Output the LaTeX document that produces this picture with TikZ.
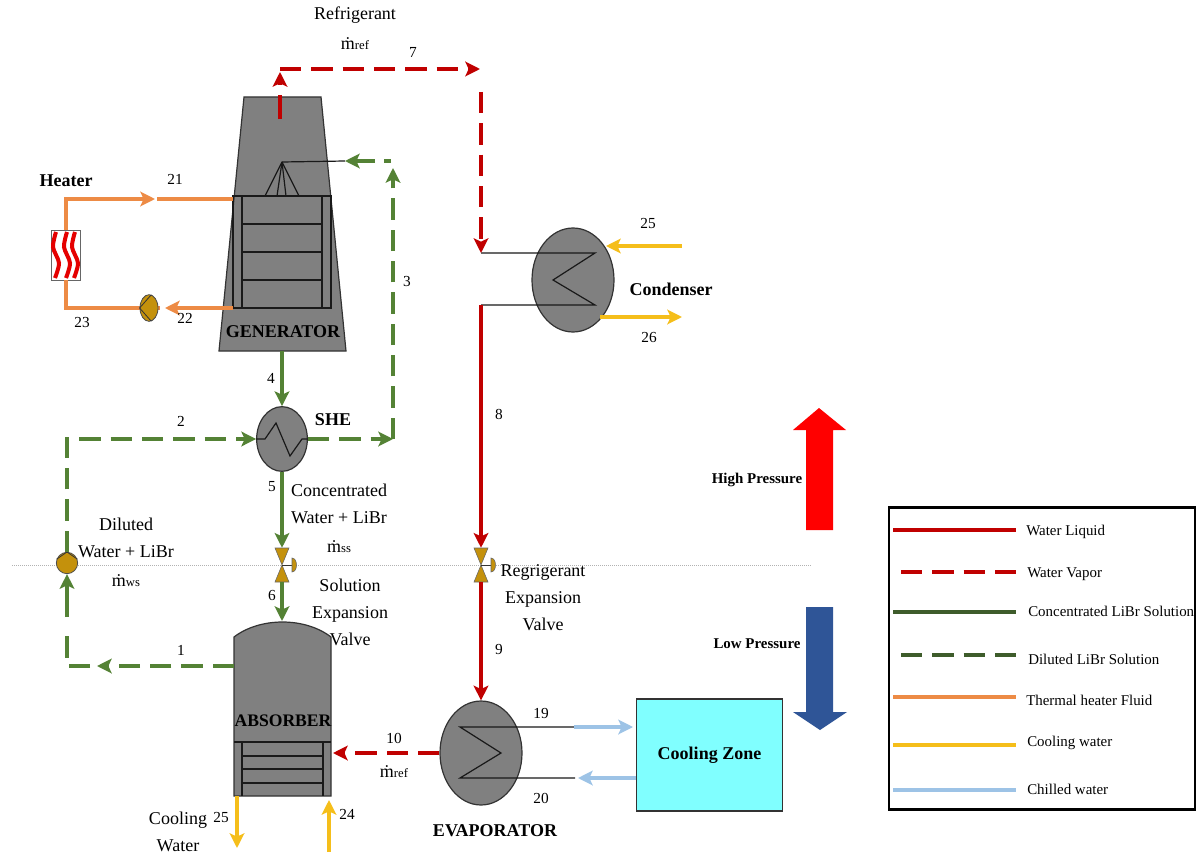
\documentclass[tikz,border=0pt]{standalone}
\usepackage{fontspec}
\setmainfont{Liberation Serif}
\usepackage{xcolor}
\usepackage{tikz}
\usetikzlibrary{arrows.meta,shapes.geometric}

\definecolor{unitgray}{RGB}{128,128,128}
\definecolor{waterred}{RGB}{192,0,0}
\definecolor{solgreen}{RGB}{84,130,53}
\definecolor{keydarkgreen}{RGB}{62,92,43}
\definecolor{heatorange}{RGB}{237,139,69}
\definecolor{coolyellow}{RGB}{245,190,26}
\definecolor{chillblue}{RGB}{157,195,230}
\definecolor{valvegold}{RGB}{196,145,12}
\definecolor{zonecyan}{RGB}{128,255,255}
\definecolor{lowblue}{RGB}{47,85,151}

\newcommand{\flowrate}[1]{\.m{\fontsize{9.5}{10}\selectfont #1}}

\tikzset{
  pipe/.style={line width=2.4pt},
  vapdash/.style={dash pattern=on 16pt off 7.5pt},
  liquid/.style={pipe, color=waterred},
  vapor/.style={pipe, vapdash, color=waterred},
  conc/.style={pipe, color=solgreen},
  dilut/.style={pipe, vapdash, color=solgreen},
  heatline/.style={pipe, color=heatorange},
  coolline/.style={pipe, color=coolyellow},
  chillline/.style={pipe, color=chillblue},
  coil/.style={draw=black!90, line width=0.9pt},
  unit/.style={draw=black!80, line width=0.9pt, fill=unitgray},
  hx/.style={unit, ellipse, inner sep=0pt, minimum width=61.5pt, minimum height=78pt},
  pumpnode/.style={ellipse, draw=black!70, line width=0.6pt, fill=valvegold, inner sep=0pt},
  valvenode/.style={inner sep=0pt, minimum width=10.5pt, minimum height=25.5pt},
  lab/.style={inner sep=0pt, align=center, font=\fontsize{13.5}{20.25}\selectfont},
  num/.style={inner sep=0pt, font=\fontsize{11.5}{14}\selectfont},
  tag/.style={inner sep=0pt, font=\fontsize{13.5}{16}\selectfont\bfseries},
  presstag/.style={inner sep=0pt, font=\fontsize{11.2}{14}\selectfont\bfseries},
  keytext/.style={inner sep=0pt, anchor=west, font=\fontsize{11.2}{13}\selectfont},
}

\begin{document}
\begin{tikzpicture}[x=0.75pt, y=-0.75pt, >={Stealth[length=11pt,width=11pt,inset=2.5pt]}]
  \useasboundingbox (0,0) rectangle (1196,856);

  \coordinate (gtl) at (244,97);
  \coordinate (gtr) at (321,97);
  \coordinate (gbr) at (346,351);
  \coordinate (gbl) at (219,351);
  \coordinate (spray) at (282,162);
  \coordinate (sprayin) at (345,161);

  \draw[black!30, densely dotted, line width=0.5pt] (12,565) coordinate (levl) -- (812,565) coordinate (levr);

  % generator
  \draw[unit] (gtl) -- (gtr) -- (gbr) -- (gbl) -- cycle;
  \draw[coil] (233,196) rectangle (331,308);
  \draw[coil] (242,196) -- (242,308);
  \draw[coil] (322,196) -- (322,308);
  \foreach \y in {224,252,280}
    \draw[coil] (242,\y) -- (322,\y);
  \foreach \x in {265,277,286,299}
    \draw[coil] (spray) -- (\x,196);
  \draw[coil] (spray) -- (sprayin);

  % absorber
  \draw[unit] (234,796) -- (234,637) .. controls (260,617) and (305,617) .. (331,637) -- (331,796) -- cycle;
  \draw[coil] (234,742) -- (331,742);
  \draw[coil] (242,742) -- (242,796);
  \draw[coil] (323,742) -- (323,796);
  \foreach \y in {756,769,783}
    \draw[coil] (242,\y) -- (323,\y);

  % heat exchangers
  \node (cond) [hx] at (573,280) {};
  \node (evap) [hx] at (481,753) {};
  \node (she) [hx, minimum width=38pt, minimum height=48.5pt] at (282,439) {};
  \node (zone) [draw=black!80, line width=0.9pt, fill=zonecyan, minimum width=110pt, minimum height=84pt] at (709.5,755) {};

  \draw[coil] (481,253) coordinate (cin) -- (595,253) -- (553,280) -- (595,305) -- (481,305) coordinate (cout);
  \draw[coil] (574,727) coordinate (eout) -- (460,727) -- (501,753) -- (460,778) -- (575,778) coordinate (eret);
  \draw[coil] (she.west) -- (265,439) -- (276,423) -- (290,456) -- (302,439) -- (she.east);

  % heater loop
  \node (heater) [draw=black!60, line width=0.6pt, fill=white, minimum width=22pt, minimum height=37.5pt, inner sep=0pt] at (66,255) {};
  \foreach \x in {54,65,73}
    \draw[red!90!black, line width=3pt] plot[smooth] coordinates {(\x+2,232) (\x-1,247) (\x+5,263) (\x+1,278)};
  \coordinate (hcorn) at (66,199);
  \coordinate (hback) at (66,308);
  \coordinate (hin) at (233,199);
  \coordinate (hout) at (233,308);
  \coordinate (harr) at (155,199);
  \draw[heatline, ->] (heater.north) -- (hcorn) -- (harr);
  \draw[heatline] (157,199) -- (hin);
  \draw[heatline] (heater.south) -- (hback) -- (160,308);
  \draw[heatline, ->] (hout) -- (165,308);
  \node (hp) [pumpnode, minimum width=13.5pt, minimum height=20pt] at (149,308) {};
  \draw[black!80, line width=0.6pt] (hp.80) -- (hp.west) -- (hp.-80);

  % solution loop
  \node (wp) [pumpnode, minimum width=16pt, minimum height=16pt] at (67,563) {};
  \draw[black!80, line width=0.6pt] (wp.160) -- (wp.north) -- (wp.20);
  \node (sv) [valvenode] at (282,565) {};
  \node (rv) [valvenode] at (481,565) {};
  \foreach \v in {sv,rv} {
    \begin{scope}[shift={(\v)}]
      \draw[fill=valvegold, draw=black!60, line width=0.4pt] (-7,-17) -- (7,-17) -- (-7,17) -- (7,17) -- cycle;
      \draw[black!80, line width=0.6pt] (0,0) -- (10,0);
      \draw[fill=valvegold, draw=black!60, line width=0.4pt] (10,-7) .. controls (16,-7) and (16,7) .. (10,7) -- cycle;
    \end{scope}
  }

  \coordinate (ableft) at (234,666);
  \coordinate (abtop) at (282,621);
  \coordinate (p1tip) at (97,666);
  \coordinate (p1low) at (67,666);
  \coordinate (p2corn) at (67,439);
  \coordinate (p3corn) at (393,439);
  \coordinate (p3top) at (393,168);
  \draw[dilut, ->] (ableft) -- (p1tip);
  \draw[dilut] (90,666) -- (p1low) -- (67,630);
  \draw[conc, ->] (67,617) -- (wp.south);
  \draw[dilut, ->] (wp.north) -- (p2corn) -- (she.west);
  \draw[dilut, ->] (she.east) -- (p3corn);
  \draw[dilut, ->] (p3corn) -- (p3top);
  \draw[conc] (391,161) -- (384,161);
  \draw[conc, ->] (375,161) -- (sprayin);
  \draw[conc, ->] (282,351) -- (she.north);
  \draw[conc, ->] (she.south) -- (sv.north);
  \draw[conc, ->] (sv.south) -- (abtop);

  % refrigerant loop
  \coordinate (genout) at (280,119);
  \coordinate (topl) at (280,69);
  \coordinate (topr) at (480,69);
  \coordinate (downt) at (481,92);
  \draw[liquid] (genout) -- (280,95);
  \draw[liquid, ->] (280,85) -- (280,72);
  \draw[vapor, ->] (topl) -- (topr);
  \draw[vapor, ->] (downt) -- (cin);
  \draw[liquid, ->] (cout) -- (rv.north);
  \draw[liquid, ->] (rv.south) -- (evap.north);
  \draw[vapor, ->] (evap.west) -- (333,753);

  % water lines
  \draw[coolline, ->] (682,246) -- (606,246);
  \draw[coolline, ->] (600,317) -- (682,317);
  \draw[coolline, ->] (237,796) -- (237,848);
  \draw[coolline, ->] (329,852) -- (329,800);
  \draw[chillline, ->] (eout) -- (633,727);
  \draw[chillline, ->] (zone.west |- eret) -- (578,778);

  % pressure arrows
  \fill[red] (819,408) -- (846,430) -- (833,430) -- (833,530) -- (806,530) -- (806,430) -- (793,430) -- cycle;
  \fill[lowblue] (806,607) -- (833,607) -- (833,712) -- (847,712) -- (820,730) -- (793,712) -- (806,712) -- cycle;

  % labels
  \node (reftxt) [lab] at (355,15) {Refrigerant};
  \node (refm) [lab] at (355,44) {\flowrate{ref}};
  \node (n7) [num] at (413,52) {7};
  \node (n3) [num] at (407,281) {3};
  \node (n8) [num] at (499,414) {8};
  \node (n9) [num] at (499,649) {9};
  \node (n4) [num] at (271,378) {4};
  \node (n5) [num] at (272,487) {5};
  \node (n6) [num] at (272,595) {6};
  \node (n2) [num] at (181,421) {2};
  \node (n1) [num] at (181,650) {1};
  \node (n21) [num] at (175,179) {21};
  \node (n22) [num] at (185,318) {22};
  \node (n23) [num] at (82,322) {23};
  \node (n25a) [num] at (648,223) {25};
  \node (n26) [num] at (649,337) {26};
  \node (n19) [num] at (541,713) {19};
  \node (n20) [num] at (541,798) {20};
  \node (n10) [num] at (394,738) {10};
  \node (n25b) [num] at (221,817) {25};
  \node (n24) [num] at (347,814) {24};
  \node (heatertxt) [tag] at (66,181) {Heater};
  \node (gentxt) [tag] at (283,332) {GENERATOR};
  \node (shetxt) [tag] at (333,420) {SHE};
  \node (condtxt) [tag] at (671,289) {Condenser};
  \node (abstxt) [tag, font=\fontsize{13.2}{16}\selectfont\bfseries] at (283,721) {ABSORBER};
  \node (evaptxt) [tag] at (495,831) {EVAPORATOR};
  \node (zonetxt) [tag] at (zone) {Cooling Zone};
  \node (hightxt) [presstag] at (757,480) {High Pressure};
  \node (lowtxt) [presstag] at (757,644) {Low Pressure};
  \node (conctxt) [lab] at (339,504) {Concentrated\\Water + LiBr};
  \node (ssm) [lab] at (339,547) {\flowrate{ss}};
  \node (diltxt) [lab] at (126,538) {Diluted\\Water + LiBr};
  \node (wsm) [lab] at (126,581) {\flowrate{ws}};
  \node (soltxt) [lab] at (350,612) {Solution\\Expansion\\Valve};
  \node (regtxt) [lab] at (543,598) {Regrigerant\\Expansion\\Valve};
  \node (evm) [lab] at (394,772) {\flowrate{ref}};
  \node (cwtxt) [lab] at (178,832) {Cooling\\Water};

  % key
  \node (keybox) [draw=black, line width=1.6pt, minimum width=229pt, minimum height=226.5pt, inner sep=0pt] at (1042,658.5) {};
  \node (k1) [keytext] at (1026,532) {Water Liquid};
  \node (k2) [keytext] at (1027,574) {Water Vapor};
  \node (k3) [keytext] at (1028,611) {Concentrated LiBr Solution};
  \node (k4) [keytext] at (1028,659) {Diluted LiBr Solution};
  \node (k5) [keytext] at (1026,700) {Thermal heater Fluid};
  \node (k6) [keytext] at (1027,743) {Cooling water};
  \node (k7) [keytext] at (1027,789) {Chilled water};
  \draw[liquid] (893,530) -- (1016,530);
  \draw[vapor] (901,572) -- (1016,572);
  \draw[pipe, color=keydarkgreen] (893,612) -- (1016,612);
  \draw[pipe, vapdash, color=keydarkgreen] (901,655) -- (1016,655);
  \draw[heatline] (893,697) -- (1016,697);
  \draw[coolline] (893,745) -- (1016,745);
  \draw[chillline] (893,790) -- (1016,790);
\end{tikzpicture}
\end{document}
